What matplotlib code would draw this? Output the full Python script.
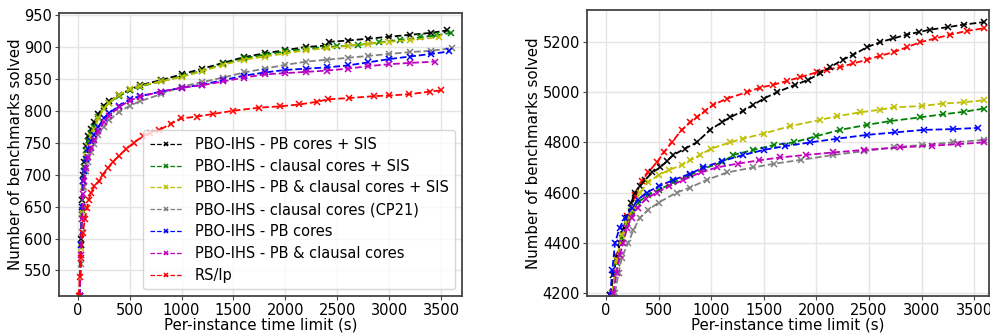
import matplotlib
matplotlib.use("Agg")
import matplotlib.pyplot as plt

# ---------------- Left panel data ----------------
labels = ["PBO-IHS - PB cores + SIS",
          "PBO-IHS - clausal cores + SIS",
          "PBO-IHS - PB & clausal cores + SIS",
          "PBO-IHS - clausal cores (CP21)",
          "PBO-IHS - PB cores",
          "PBO-IHS - PB & clausal cores",
          "RS/lp"]
colors = ["k", "g", "y", "grey", "b", "m", "r"]

L_black_t = [20, 30, 40, 50, 60, 80, 100, 130, 160, 200, 250, 300, 400, 500, 600, 800, 1000, 1200, 1400, 1600, 1800, 2000, 2200, 2380, 2420, 2600, 2800, 3000, 3200, 3400, 3560]
L_black_v = [510, 600, 660, 700, 720, 745, 760, 772, 782, 795, 808, 815, 825, 833, 840, 848, 857, 866, 875, 884, 890, 895, 900, 902, 908, 910, 913, 916, 919, 922, 926]

L_green_t = [20, 30, 40, 50, 60, 80, 100, 130, 160, 200, 250, 300, 400, 500, 600, 800, 1000, 1200, 1400, 1600, 1800, 2000, 2200, 2400, 2500, 2700, 2900, 3100, 3300, 3450, 3590]
L_green_v = [510, 590, 645, 690, 712, 738, 752, 765, 775, 790, 805, 813, 823, 832, 838, 846, 854, 863, 873, 882, 888, 893, 897, 900, 901, 903, 907, 911, 915, 918, 922]

L_yellow_t = [20, 30, 40, 50, 60, 80, 100, 130, 160, 200, 250, 300, 400, 500, 600, 800, 1000, 1200, 1400, 1600, 1800, 2000, 2200, 2400, 2600, 2800, 3000, 3200, 3480]
L_yellow_v = [510, 585, 640, 680, 705, 730, 745, 760, 772, 788, 803, 813, 825, 834, 839, 846, 853, 862, 872, 880, 885, 890, 895, 898, 902, 905, 908, 911, 915]

L_grey_t = [20, 30, 40, 50, 60, 80, 100, 130, 160, 200, 250, 300, 400, 500, 600, 800, 1000, 1200, 1400, 1600, 1800, 2000, 2200, 2400, 2600, 2800, 3000, 3200, 3400, 3600]
L_grey_v = [510, 560, 610, 650, 680, 705, 720, 735, 748, 762, 775, 785, 798, 808, 815, 826, 838, 845, 852, 860, 866, 872, 877, 880, 883, 886, 889, 892, 894, 898]

L_blue_t = [20, 30, 40, 50, 60, 80, 100, 130, 160, 200, 250, 300, 400, 500, 600, 800, 1000, 1200, 1400, 1600, 1800, 2000, 2200, 2400, 2600, 2800, 3000, 3200, 3400, 3580]
L_blue_v = [510, 590, 650, 690, 705, 725, 740, 752, 762, 775, 788, 796, 808, 818, 823, 830, 836, 841, 848, 855, 860, 864, 866, 868, 871, 876, 881, 885, 889, 893]

L_mag_t = [20, 30, 40, 50, 60, 80, 100, 130, 160, 200, 250, 300, 400, 500, 600, 800, 1000, 1200, 1400, 1600, 1800, 2000, 2200, 2400, 2600, 2800, 3000, 3200, 3440]
L_mag_v = [510, 575, 630, 670, 690, 710, 728, 742, 754, 768, 782, 792, 806, 816, 822, 830, 836, 840, 846, 852, 857, 859, 861, 863, 866, 870, 873, 875, 877]

L_red_t = [10, 20, 30, 48, 70, 90, 106, 130, 160, 209, 240, 290, 337, 400, 465, 540, 626, 700, 787, 900, 995, 1150, 1300, 1493, 1750, 1950, 2135, 2300, 2408, 2617, 2858, 3000, 3195, 3388, 3500]
L_red_v = [510, 540, 570, 609, 630, 648, 661, 672, 682, 690, 700, 710, 720, 730, 740, 750, 760, 766, 770, 780, 788, 791, 795, 800, 805, 807, 810, 814, 818, 820, 823, 824, 826, 830, 832]

# ---------------- Right panel data ----------------
R_black_t = [40, 70, 100, 133, 160, 196, 240, 276, 320, 371, 440, 514, 580, 640, 750, 862, 989, 1100, 1179, 1300, 1401, 1500, 1623, 1800, 1924, 2030, 2130, 2250, 2352, 2480, 2606, 2730, 2860, 2970, 3082, 3250, 3399, 3590]
R_black_v = [4190, 4270, 4340, 4400, 4450, 4500, 4560, 4600, 4625, 4650, 4680, 4700, 4725, 4750, 4775, 4800, 4850, 4880, 4900, 4925, 4950, 4975, 5000, 5030, 5050, 5075, 5100, 5130, 5150, 5180, 5200, 5215, 5230, 5240, 5250, 5260, 5270, 5280]

R_green_t = [60, 100, 150, 200, 250, 300, 400, 500, 640, 800, 925, 1100, 1211, 1400, 1600, 1782, 2000, 2226, 2480, 2700, 2987, 3200, 3400, 3590]
R_green_v = [4200, 4320, 4420, 4480, 4520, 4560, 4590, 4610, 4640, 4670, 4695, 4720, 4750, 4770, 4790, 4800, 4825, 4850, 4870, 4885, 4900, 4912, 4922, 4935]

R_yellow_t = [60, 100, 150, 200, 250, 323, 400, 500, 600, 720, 800, 894, 1000, 1179, 1300, 1497, 1750, 2036, 2200, 2416, 2600, 2733, 3000, 3200, 3400, 3590]
R_yellow_v = [4200, 4330, 4430, 4490, 4530, 4600, 4640, 4670, 4690, 4710, 4728, 4750, 4775, 4800, 4815, 4835, 4865, 4890, 4905, 4920, 4930, 4940, 4945, 4955, 4960, 4968]

R_grey_t = [86, 120, 150, 212, 260, 323, 400, 500, 672, 800, 957, 1150, 1401, 1600, 1850, 2162, 2450, 2733, 3000, 3300, 3590]
R_grey_v = [4200, 4280, 4340, 4400, 4450, 4500, 4530, 4560, 4600, 4620, 4650, 4680, 4700, 4715, 4730, 4750, 4765, 4780, 4790, 4800, 4810]

R_blue_t = [40, 60, 86, 130, 181, 250, 300, 387, 500, 640, 800, 925, 1100, 1306, 1500, 1700, 1940, 2200, 2480, 2750, 3018, 3300, 3540]
R_blue_v = [4190, 4290, 4400, 4460, 4500, 4540, 4570, 4600, 4625, 4650, 4675, 4700, 4725, 4750, 4770, 4785, 4800, 4815, 4830, 4840, 4850, 4853, 4858]

R_mag_t = [70, 100, 130, 165, 200, 244, 300, 380, 482, 600, 735, 900, 1053, 1250, 1450, 1655, 1900, 2162, 2450, 2796, 3100, 3350, 3590]
R_mag_v = [4200, 4280, 4350, 4400, 4460, 4500, 4540, 4575, 4600, 4625, 4650, 4680, 4700, 4715, 4728, 4740, 4750, 4760, 4770, 4780, 4787, 4793, 4800]

R_red_t = [40, 100, 200, 280, 340, 400, 482, 550, 625, 720, 800, 862, 940, 1021, 1150, 1338, 1460, 1590, 1720, 1845, 2004, 2100, 2226, 2350, 2480, 2600, 2733, 2860, 2987, 3130, 3272, 3430, 3590]
R_red_v = [4190, 4345, 4505, 4590, 4645, 4680, 4720, 4760, 4800, 4850, 4880, 4900, 4925, 4950, 4975, 5000, 5018, 5030, 5045, 5060, 5080, 5090, 5100, 5115, 5130, 5145, 5160, 5180, 5200, 5215, 5230, 5245, 5255]

left_series = [(L_black_t, L_black_v), (L_green_t, L_green_v), (L_yellow_t, L_yellow_v),
               (L_grey_t, L_grey_v), (L_blue_t, L_blue_v), (L_mag_t, L_mag_v), (L_red_t, L_red_v)]
right_series = [(R_black_t, R_black_v), (R_green_t, R_green_v), (R_yellow_t, R_yellow_v),
                (R_grey_t, R_grey_v), (R_blue_t, R_blue_v), (R_mag_t, R_mag_v), (R_red_t, R_red_v)]

plt.rcParams['font.family'] = ['DejaVu Sans']
FS = 10.5

fig = plt.figure(figsize=(9.9, 3.36), dpi=100)
axL = fig.add_axes([0.0596, 0.119, 0.407, 0.842])
axR = fig.add_axes([0.593, 0.119, 0.406, 0.851])

def style(ax, lp):
    ax.set_facecolor("white")
    ax.grid(True, color="#e5e5e5", linewidth=1.0)
    ax.set_axisbelow(True)
    for s in ax.spines.values():
        s.set_color("#444444")
        s.set_linewidth(1.3)
    ax.tick_params(labelsize=FS, length=3, width=0.8, color="#444444", pad=2)
    ax.set_xlabel("Per-instance time limit (s)", fontsize=FS + 0.3, labelpad=0)
    ax.set_ylabel("Number of benchmarks solved", fontsize=FS + 0.3, labelpad=lp)
    ax.set_xticks([0, 500, 1000, 1500, 2000, 2500, 3000, 3500])

style(axL, 0.5)
style(axR, 1.5)

MS, MEW, LW = 4.2, 1.1, 1.3

for (t, v), c, lab in zip(left_series, colors, labels):
    axL.plot(t, v, linestyle="--", color=c, marker="x", markersize=MS,
             markeredgewidth=MEW, linewidth=LW, label=lab)

# right panel: RS/lp drawn underneath the others
order = [6, 0, 1, 2, 3, 4, 5]
for i in order:
    t, v = right_series[i]
    axR.plot(t, v, linestyle="--", color=colors[i], marker="x", markersize=MS,
             markeredgewidth=MEW, linewidth=LW)

axL.set_xlim(-180, 3700)
axL.set_ylim(510, 953)
axL.set_yticks([550, 600, 650, 700, 750, 800, 850, 900, 950])
axR.set_xlim(-180, 3640)
axR.set_ylim(4187, 5328)
axR.set_yticks([4200, 4400, 4600, 4800, 5000, 5200])

leg = axL.legend(loc="lower right", fontsize=FS, frameon=True, fancybox=True,
                 borderaxespad=0.45, handlelength=2.2, labelspacing=0.47,
                 borderpad=0.45, handletextpad=0.9)
leg.get_frame().set_edgecolor("#cccccc")
for h in leg.get_lines():
    h.set_linewidth(0.9)
    h.set_markersize(3.5)

fig.savefig("out.png", dpi=100)
